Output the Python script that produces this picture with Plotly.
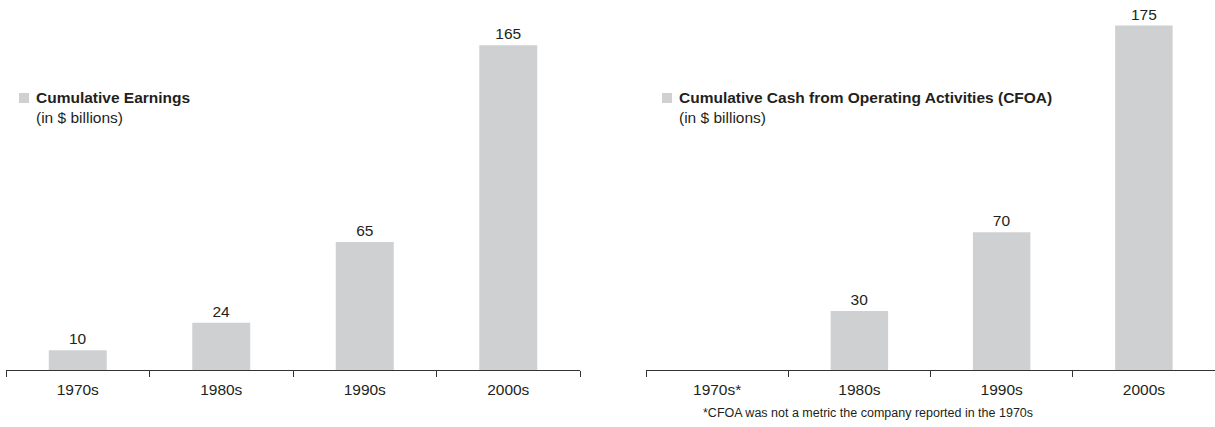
import plotly.graph_objects as go

categories_left = ["1970s", "1980s", "1990s", "2000s"]
earnings = [10, 24, 65, 165]
categories_right = ["1970s*", "1980s", "1990s", "2000s"]
cfoa = [None, 30, 70, 175]

BAR = "#cfd0d2"
TXT = "#231f20"
FONT = "Liberation Sans, Arial, Helvetica, sans-serif"
FS = 15.5

fig = go.Figure()
fig.add_trace(go.Bar(x=categories_left, y=earnings, xaxis="x", yaxis="y",
                     marker=dict(color=BAR, line=dict(width=0)),
                     text=[str(v) for v in earnings], textposition="outside",
                     textfont=dict(size=FS, color=TXT, family=FONT),
                     cliponaxis=False, showlegend=False, hoverinfo="x+y"))
fig.add_trace(go.Bar(x=categories_right, y=cfoa, xaxis="x2", yaxis="y2",
                     marker=dict(color=BAR, line=dict(width=0)),
                     text=["" if v is None else str(v) for v in cfoa], textposition="outside",
                     textfont=dict(size=FS, color=TXT, family=FONT),
                     cliponaxis=False, showlegend=False, hoverinfo="x+y"))

xcommon = dict(showline=True, linecolor="#333333", linewidth=1, ticks="outside",
               tickson="boundaries", ticklen=6, tickcolor="#333333", showgrid=False,
               zeroline=False, tickfont=dict(size=FS, color=TXT, family=FONT),
               ticklabelstandoff=5,
               range=[-0.5, 3.5], fixedrange=True)
ycommon = dict(visible=False, range=[0, 188], showgrid=False, zeroline=False)

fig.update_layout(
    width=1215, height=427,
    margin=dict(l=0, r=0, t=0, b=57),
    paper_bgcolor="white", plot_bgcolor="white",
    bargap=0.596,
    font=dict(family=FONT, color=TXT),
    xaxis=dict(domain=[6/1215, 580/1215], anchor="y", **xcommon),
    yaxis=dict(domain=[0, 1], anchor="x", **ycommon),
    xaxis2=dict(domain=[646/1215, 1.0], anchor="y2", **xcommon),
    yaxis2=dict(domain=[0, 1], anchor="x2", **ycommon),
)

# legend-like labels
for xpx, title in [(19, "Cumulative Earnings"), (662, "Cumulative Cash from Operating Activities (CFOA)")]:
    fig.add_shape(type="rect", xref="paper", yref="paper",
                  x0=xpx/1215, x1=(xpx+10)/1215,
                  y0=1-103/370, y1=1-93/370,
                  fillcolor=BAR, line=dict(width=0))
    fig.add_annotation(xref="paper", yref="paper", x=(xpx+15)/1215, y=1-98/370,
                       xanchor="left", yanchor="middle", showarrow=False,
                       text="<b>%s</b>" % title, font=dict(size=FS, color=TXT, family=FONT))
    fig.add_annotation(xref="paper", yref="paper", x=(xpx+15)/1215, y=1-117/370,
                       xanchor="left", yanchor="middle", showarrow=False,
                       text="(in $ billions)", font=dict(size=FS, color=TXT, family=FONT))

fig.add_annotation(xref="paper", yref="paper", x=868/1215, y=1-413/370,
                   xanchor="center", yanchor="middle", showarrow=False,
                   text="*CFOA was not a metric the company reported in the 1970s",
                   font=dict(size=12.5, color=TXT, family=FONT))

fig.write_html("out.html")
